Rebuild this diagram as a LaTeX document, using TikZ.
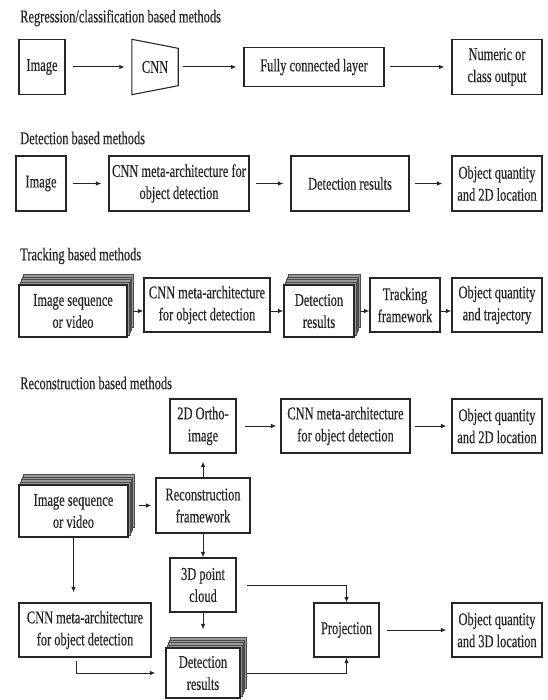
\documentclass[tikz,border=0pt]{standalone}
\usepackage{fontspec}
\setmainfont{Liberation Serif}[FakeStretch=0.69,FakeBold=0.4]
\usetikzlibrary{arrows.meta,backgrounds}

\newcommand{\deck}[1]{%
  \begin{scope}[on background layer]
    \foreach \k in {4,3,2,1}
      \draw[line width=0.4pt,draw=black!70,fill=black!40]
        ([xshift=\k*1.3pt,yshift=\k*2.5pt]#1.south west) rectangle
        ([xshift=\k*1.3pt,yshift=\k*2.5pt]#1.north east);
  \end{scope}}

\begin{document}
\begin{tikzpicture}[x=1pt,y=-1pt,color=black!85,
    every node/.style={inner sep=0pt,font=\fontsize{18}{22}\selectfont},
    box/.style={draw,line width=1.1pt,fill=white,align=center},
    title/.style={anchor=west},
    link/.style={-{Latex[length=5.5pt,width=4.5pt]},line width=1pt}]
  \useasboundingbox (0,0) rectangle (547,700);

  \node[title] (reg) at (20,18) {Regression/classification based methods};
  \node[box,minimum width=46pt,minimum height=55pt] (img1) at (42,67) {Image};
  \node[minimum width=46pt,minimum height=55pt] (cnn1) at (155,67) {CNN};
  \draw[line width=1.1pt] (cnn1.north west) -- ([yshift=-9pt]cnn1.north east)
    -- ([yshift=9pt]cnn1.south east) -- (cnn1.south west) -- cycle;
  \node[box,minimum width=140pt,minimum height=39pt] (fc1) at (314,67) {Fully connected layer};
  \node[box,minimum width=90pt,minimum height=55pt] (num1) at (497,67) {Numeric or\\class output};
  \draw[link,shorten <=7pt,shorten >=7pt] (img1) -- (cnn1);
  \draw[link,shorten <=5pt,shorten >=7pt] (cnn1) -- (fc1);
  \draw[link,shorten <=5pt,shorten >=7pt] (fc1) -- (num1);

  \node[title] (det) at (20,138) {Detection based methods};
  \node[box,minimum width=50pt,minimum height=55pt] (img2) at (41,183.5) {Image};
  \node[box,minimum width=140pt,minimum height=55pt] (cnn2) at (179,183.5) {CNN meta-architecture for\\object detection};
  \node[box,minimum width=118pt,minimum height=55pt] (det2) at (350,183.5) {Detection results};
  \node[box,minimum width=90pt,minimum height=55pt] (obj2) at (497,183.5) {Object quantity\\and 2D location};
  \draw[link,shorten <=6pt,shorten >=7pt] (img2) -- (cnn2);
  \draw[link,shorten <=6pt,shorten >=7pt] (cnn2) -- (det2);
  \draw[link,shorten <=5pt,shorten >=9pt] (det2) -- (obj2);

  \node[title] (trk) at (20,256) {Tracking based methods};
  \node[box,minimum width=108pt,minimum height=52pt] (seq3) at (73,311) {Image sequence\\or video};
  \deck{seq3}
  \node[box,minimum width=126pt,minimum height=54pt] (cnn3) at (207,305) {CNN meta-architecture\\for object detection};
  \node[box,minimum width=70pt,minimum height=52pt] (det3) at (319,311) {Detection\\results};
  \deck{det3}
  \node[box,minimum width=70pt,minimum height=54pt] (trk3) at (405,305) {Tracking\\framework};
  \node[box,minimum width=90pt,minimum height=54pt] (obj3) at (497,305) {Object quantity\\and trajectory};
  \draw[link,shorten <=5pt] (seq3.east) -- (seq3.east -| cnn3.west);
  \draw[link] (cnn3.east |- det3.west) -- (det3.west);
  \draw[link,shorten <=5pt] (det3.east) -- (det3.east -| trk3.west);
  \draw[link] (trk3.east |- det3.east) -- (obj3.west |- det3.east);

  \node[title] (rec) at (20,383) {Reconstruction based methods};
  \node[box,minimum width=66pt,minimum height=54pt] (ortho4) at (203,426) {2D Ortho-\\image};
  \node[box,minimum width=129pt,minimum height=54pt] (cnn4) at (345.5,426) {CNN meta-architecture\\for object detection};
  \node[box,minimum width=90pt,minimum height=54pt] (obj4) at (497,426) {Object quantity\\and 2D location};
  \node[box,minimum width=109pt,minimum height=52pt] (seq4) at (73.5,511) {Image sequence\\or video};
  \deck{seq4}
  \node[box,minimum width=94pt,minimum height=55pt] (rec4) at (203,505.5) {Reconstruction\\framework};
  \node[box,minimum width=66pt,minimum height=54pt] (cloud5) at (203,585) {3D point\\cloud};
  \node[box,minimum width=132pt,minimum height=54pt] (cnn5) at (85,630) {CNN meta-architecture\\for object detection};
  \node[box,minimum width=74pt,minimum height=50pt] (det5) at (203,673) {Detection\\results};
  \deck{det5}
  \node[box,minimum width=65pt,minimum height=54pt] (proj5) at (346.5,630) {Projection};
  \node[box,minimum width=90pt,minimum height=54pt] (obj5) at (497,630) {Object quantity\\and 3D location};
  \draw[link,shorten <=8pt,shorten >=4pt] (ortho4) -- (cnn4);
  \draw[link,shorten <=4pt,shorten >=5pt] (cnn4) -- (obj4);
  \draw[link,shorten <=10pt,shorten >=4pt] (rec4.west -| seq4.east) -- (rec4.west);
  \draw[link,shorten >=8pt] (rec4) -- (ortho4);
  \draw[link] (rec4) -- (cloud5);
  \draw[link,shorten >=18pt] (cloud5) -- (det5);
  \draw[link,shorten >=10pt] (seq4.south) -- (seq4.south |- cnn5.north);
  \draw[link,shorten <=3pt,shorten >=10pt] ([xshift=-9pt]cnn5.south) |- (det5.west);
  \draw[link,shorten <=10pt] (cloud5.east) -| (proj5.north);
  \draw[link,shorten <=6pt] (det5.east) -| (proj5.south);
  \draw[link,shorten <=7pt,shorten >=5pt] (proj5) -- (obj5);
\end{tikzpicture}
\end{document}
